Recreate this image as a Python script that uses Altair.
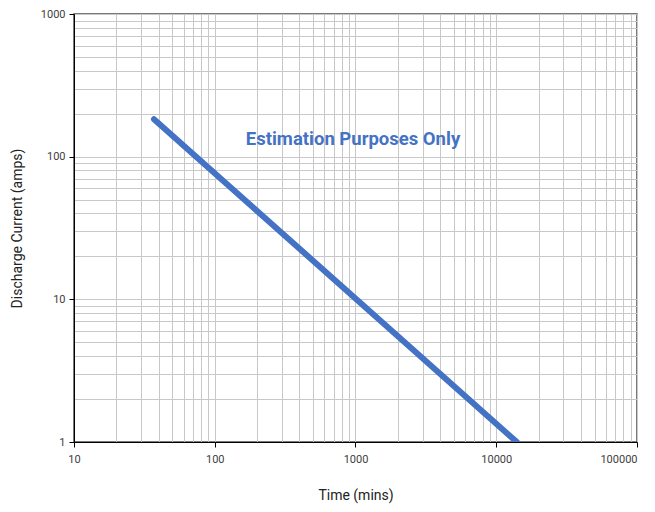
import altair as alt
import pandas as pd

time_mins = [37, 14000]
current_amps = [183, 1]

x_grid = [v * m for m in [10, 100, 1000, 10000] for v in range(1, 10)] + [100000]
y_grid = [v * m for m in [1, 10, 100] for v in range(1, 10)] + [1000]
x_major = [10, 100, 1000, 10000, 100000]
y_major = [1, 10, 100, 1000]

note_text = ["Estimation Purposes Only"]
note_x = [960]
note_y = [133]

FONT = "Roboto, Liberation Sans, sans-serif"
BLUE = "#4472C4"

line_df = pd.DataFrame({"t": time_mins, "c": current_amps})
note_df = pd.DataFrame({"t": note_x, "c": note_y, "label": note_text})

xs = alt.Scale(type="log", domain=[10, 100000], nice=False)
ys = alt.Scale(type="log", domain=[1, 1000], nice=False)

x_major_test = "indexof([10,100,1000,10000,100000], datum.value) >= 0"
y_major_test = "indexof([1,10,100,1000], datum.value) >= 0"

x_axis = alt.Axis(
    values=x_grid, format="d", title="Time (mins)",
    labelExpr=f"({x_major_test}) ? datum.label : ''",
    tickColor={"condition": {"test": x_major_test, "value": "#000000"}, "value": "transparent"},
    labelAlign={"condition": {"test": "datum.value == 100000", "value": "right"}, "value": "center"},
    tickSize=5, labelFlush=False, labelOverlap=False,
    grid=True, gridColor="#c8c8c8", domainColor="#000000",
    labelFont=FONT, labelFontSize=11, labelColor="#404040", labelPadding=6,
    titleFont=FONT, titleFontSize=14, titleFontWeight="normal", titleColor="#222222", titlePadding=24,
)
y_axis = alt.Axis(
    values=y_grid, format="d", title="Discharge Current (amps)",
    labelExpr=f"({y_major_test}) ? datum.label : ''",
    tickColor={"condition": {"test": y_major_test, "value": "#000000"}, "value": "transparent"},
    tickSize=5, labelFlush=False, labelOverlap=False,
    grid=True, gridColor="#c8c8c8", domainColor="#000000",
    labelFont=FONT, labelFontSize=11, labelColor="#404040", labelPadding=4,
    titleFont=FONT, titleFontSize=14, titleFontWeight="normal", titleColor="#222222", titlePadding=16,
)

line = alt.Chart(line_df).mark_line(color=BLUE, strokeWidth=6, strokeCap="round", clip=True).encode(
    x=alt.X("t:Q", scale=xs, axis=x_axis),
    y=alt.Y("c:Q", scale=ys, axis=y_axis),
)

note = alt.Chart(note_df).mark_text(
    color=BLUE, font=FONT, fontSize=18.5, fontWeight="bold", align="center", baseline="middle"
).encode(
    x=alt.X("t:Q", scale=xs),
    y=alt.Y("c:Q", scale=ys),
    text="label:N",
)

chart = alt.layer(line, note).properties(
    width=563, height=428,
    autosize=alt.AutoSizeParams(type="none"),
    padding={"left": 66, "top": 6, "right": 2, "bottom": 62},
    background="white",
).configure_view(stroke="#4d4d4d", strokeWidth=1.5)

chart.save("out.html", embed_options={"renderer": "svg", "actions": False})
